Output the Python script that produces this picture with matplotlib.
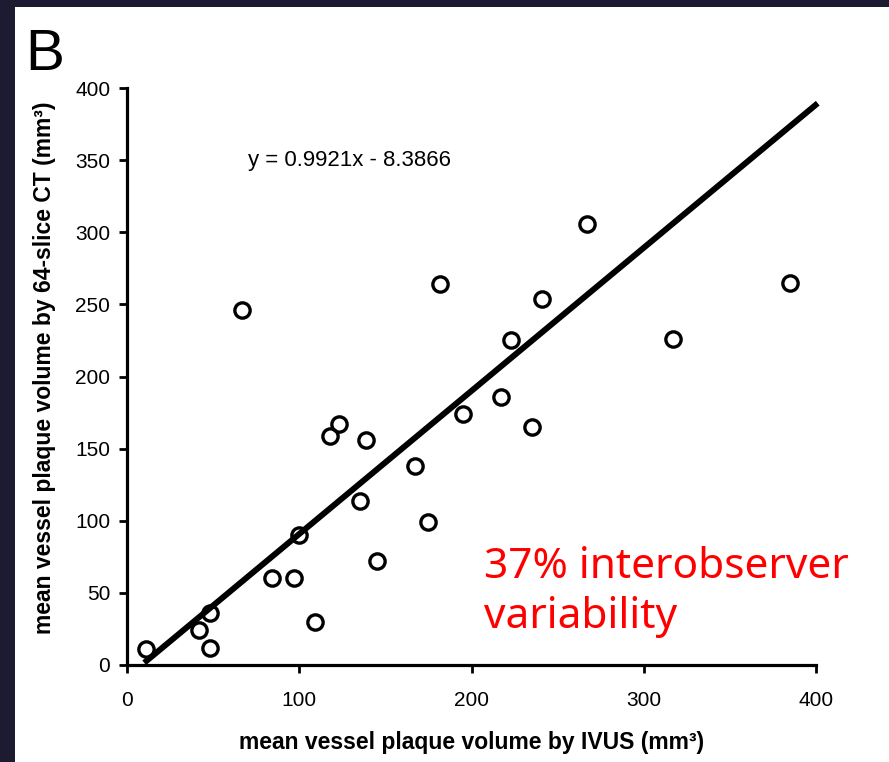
import numpy as np
import matplotlib.pyplot as plt
from matplotlib.patches import Rectangle

# IVUS (x) vs 64-slice CT (y) mean vessel plaque volume, mm3
ivus = [11, 42, 48, 48, 84, 97, 100, 109, 135, 145, 67, 118, 123, 139, 167,
        175, 182, 195, 217, 223, 235, 241, 267, 317, 385]
ct = [11, 24, 12, 36, 60, 60, 90, 30, 114, 72, 246, 159, 167, 156, 138,
      99, 264, 174, 186, 225, 165, 254, 306, 226, 265]

slope, intercept = 0.9921, -8.3866
fit_range = [10, 401]

xticks = [0, 100, 200, 300, 400]
yticks = [0, 50, 100, 150, 200, 250, 300, 350, 400]

plt.rcParams['font.family'] = ['Liberation Sans', 'DejaVu Sans']

fig = plt.figure(figsize=(8.89, 7.62), dpi=100, facecolor='#1d1b31')
fig.patches.append(Rectangle((15 / 889, 0), 1, 1 - 7 / 762, transform=fig.transFigure,
                             facecolor='white', edgecolor='none', zorder=-5))

ax = fig.add_axes([127 / 889, 97 / 762, 689 / 889, 577 / 762])
ax.set_zorder(2)
ax.set_facecolor('none')

ax.plot(ivus, ct, 'o', ms=11, mfc='none', mec='black', mew=2.4, zorder=3, clip_on=False)

xs = np.array(fit_range)
ax.plot(xs, slope * xs + intercept, color='black', lw=4.3, solid_capstyle='butt', zorder=2,
        clip_on=False)

ax.set_xlim(0, 400)
ax.set_ylim(0, 400)
ax.set_xticks(xticks)
ax.set_yticks(yticks)
for s in ['top', 'right']:
    ax.spines[s].set_visible(False)
for s in ['left', 'bottom']:
    ax.spines[s].set_linewidth(2.3)
ax.tick_params(width=2, length=6, labelsize=15, pad=6)
ax.tick_params(axis='x', pad=13)

ax.set_xlabel('mean vessel plaque volume by IVUS (mm³)', fontsize=16.5, fontweight='bold')
ax.set_ylabel('mean vessel plaque volume by 64-slice CT (mm³)', fontsize=16.5, fontweight='bold')
ax.xaxis.set_label_coords(0.5, -0.115)
ax.yaxis.set_label_coords(-0.103, 0.515)

ax.text(70, 350, 'y = 0.9921x - 8.3866', fontsize=16, va='center', ha='left')

fig.text(25 / 889, 1 - 70 / 762, 'B', fontsize=42, ha='left', va='baseline')

red_lines = ['37% interobserver', 'variability']
for i, line in enumerate(red_lines):
    fig.text(484 / 889, 1 - (578 + 50 * i) / 762, line, color='#ff0000',
             fontsize=30.5, family=['Noto Sans', 'DejaVu Sans'], fontweight='semibold',
             ha='left', va='baseline', zorder=5)

fig.savefig('out.png', dpi=100, facecolor=fig.get_facecolor())
